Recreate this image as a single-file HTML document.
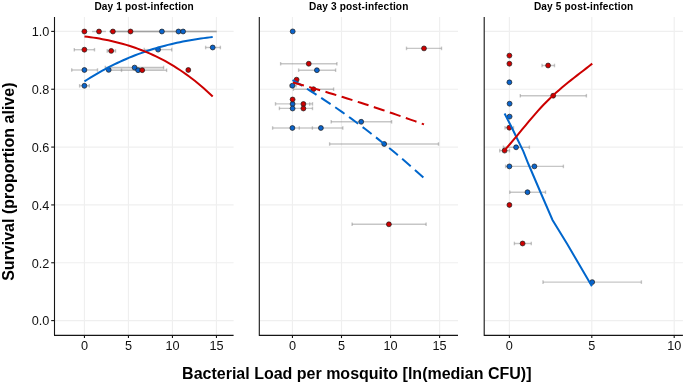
<!DOCTYPE html>
<html><head><meta charset="utf-8"><style>
html,body{margin:0;padding:0;background:#fff;width:685px;height:384px;overflow:hidden;font-family:"Liberation Sans",sans-serif;}
</style></head><body>
<svg width="685" height="384" viewBox="0 0 685 384" style="position:absolute;left:0;top:0">
<rect width="685" height="384" fill="#fff"/>
<g stroke="#EFEFEF" stroke-width="1.2" fill="none">
<line x1="54.5" y1="320.60" x2="233.6" y2="320.60"/>
<line x1="54.5" y1="262.76" x2="233.6" y2="262.76"/>
<line x1="54.5" y1="204.92" x2="233.6" y2="204.92"/>
<line x1="54.5" y1="147.08" x2="233.6" y2="147.08"/>
<line x1="54.5" y1="89.24" x2="233.6" y2="89.24"/>
<line x1="54.5" y1="31.40" x2="233.6" y2="31.40"/>
<line x1="84.45" y1="17.0" x2="84.45" y2="335.4"/>
<line x1="128.45" y1="17.0" x2="128.45" y2="335.4"/>
<line x1="172.45" y1="17.0" x2="172.45" y2="335.4"/>
<line x1="216.45" y1="17.0" x2="216.45" y2="335.4"/>
</g>
<g stroke="#EFEFEF" stroke-width="1.2" fill="none">
<line x1="259.3" y1="320.60" x2="458.0" y2="320.60"/>
<line x1="259.3" y1="262.76" x2="458.0" y2="262.76"/>
<line x1="259.3" y1="204.92" x2="458.0" y2="204.92"/>
<line x1="259.3" y1="147.08" x2="458.0" y2="147.08"/>
<line x1="259.3" y1="89.24" x2="458.0" y2="89.24"/>
<line x1="259.3" y1="31.40" x2="458.0" y2="31.40"/>
<line x1="292.45" y1="17.0" x2="292.45" y2="335.4"/>
<line x1="341.50" y1="17.0" x2="341.50" y2="335.4"/>
<line x1="390.55" y1="17.0" x2="390.55" y2="335.4"/>
<line x1="439.60" y1="17.0" x2="439.60" y2="335.4"/>
</g>
<g stroke="#EFEFEF" stroke-width="1.2" fill="none">
<line x1="484.2" y1="320.60" x2="682.9" y2="320.60"/>
<line x1="484.2" y1="262.76" x2="682.9" y2="262.76"/>
<line x1="484.2" y1="204.92" x2="682.9" y2="204.92"/>
<line x1="484.2" y1="147.08" x2="682.9" y2="147.08"/>
<line x1="484.2" y1="89.24" x2="682.9" y2="89.24"/>
<line x1="484.2" y1="31.40" x2="682.9" y2="31.40"/>
<line x1="509.40" y1="17.0" x2="509.40" y2="335.4"/>
<line x1="591.80" y1="17.0" x2="591.80" y2="335.4"/>
<line x1="674.20" y1="17.0" x2="674.20" y2="335.4"/>
</g>
<g stroke="rgba(120,120,120,0.42)" stroke-width="1.4" fill="none">
<rect x="108.7" y="67.5" width="54.9" height="2.8" fill="#ECECEC" stroke="none"/>
<line x1="92.1" y1="31.5" x2="105.9" y2="31.5"/>
<line x1="109.4" y1="31.5" x2="216.7" y2="31.5"/>
<line x1="109.4" y1="31.5" x2="216.7" y2="31.5"/>
<line x1="108.7" y1="70.3" x2="121.5" y2="70.3"/>
<line x1="299.3" y1="128.0" x2="312.4" y2="128.0"/>
<line x1="309.7" y1="102.2" x2="309.7" y2="105.8"/>
<line x1="74.3" y1="49.7" x2="94.5" y2="49.7"/>
<line x1="74.3" y1="47.9" x2="74.3" y2="51.5"/>
<line x1="94.5" y1="47.9" x2="94.5" y2="51.5"/>
<line x1="107.2" y1="50.9" x2="115.5" y2="50.9"/>
<line x1="107.2" y1="49.1" x2="107.2" y2="52.7"/>
<line x1="115.5" y1="49.1" x2="115.5" y2="52.7"/>
<line x1="144.2" y1="49.6" x2="171.7" y2="49.6"/>
<line x1="144.2" y1="47.8" x2="144.2" y2="51.4"/>
<line x1="171.7" y1="47.8" x2="171.7" y2="51.4"/>
<line x1="205.6" y1="47.5" x2="220.4" y2="47.5"/>
<line x1="205.6" y1="45.7" x2="205.6" y2="49.3"/>
<line x1="220.4" y1="45.7" x2="220.4" y2="49.3"/>
<line x1="71.7" y1="70.0" x2="97.5" y2="70.0"/>
<line x1="71.7" y1="68.2" x2="71.7" y2="71.8"/>
<line x1="97.5" y1="68.2" x2="97.5" y2="71.8"/>
<line x1="105.3" y1="67.5" x2="163.6" y2="67.5"/>
<line x1="105.3" y1="65.7" x2="105.3" y2="69.3"/>
<line x1="163.6" y1="65.7" x2="163.6" y2="69.3"/>
<line x1="121.5" y1="70.3" x2="166.6" y2="70.3"/>
<line x1="121.5" y1="68.5" x2="121.5" y2="72.1"/>
<line x1="166.6" y1="68.5" x2="166.6" y2="72.1"/>
<line x1="79.6" y1="85.8" x2="89.3" y2="85.8"/>
<line x1="79.6" y1="84.0" x2="79.6" y2="87.6"/>
<line x1="89.3" y1="84.0" x2="89.3" y2="87.6"/>
<line x1="406.5" y1="48.4" x2="441.5" y2="48.4"/>
<line x1="406.5" y1="46.6" x2="406.5" y2="50.2"/>
<line x1="441.5" y1="46.6" x2="441.5" y2="50.2"/>
<line x1="280.6" y1="63.8" x2="336.9" y2="63.8"/>
<line x1="280.6" y1="62.0" x2="280.6" y2="65.5"/>
<line x1="336.9" y1="62.0" x2="336.9" y2="65.5"/>
<line x1="298.6" y1="70.2" x2="335.6" y2="70.2"/>
<line x1="298.6" y1="68.4" x2="298.6" y2="72.0"/>
<line x1="335.6" y1="68.4" x2="335.6" y2="72.0"/>
<line x1="289.9" y1="85.7" x2="296.1" y2="85.7"/>
<line x1="289.9" y1="83.9" x2="289.9" y2="87.5"/>
<line x1="296.1" y1="83.9" x2="296.1" y2="87.5"/>
<line x1="293.4" y1="89.2" x2="333.6" y2="89.2"/>
<line x1="293.4" y1="87.4" x2="293.4" y2="91.0"/>
<line x1="333.6" y1="87.4" x2="333.6" y2="91.0"/>
<line x1="275.5" y1="103.9" x2="312.5" y2="103.9"/>
<line x1="275.5" y1="102.1" x2="275.5" y2="105.7"/>
<line x1="312.5" y1="102.1" x2="312.5" y2="105.7"/>
<line x1="279.4" y1="108.4" x2="312.5" y2="108.4"/>
<line x1="279.4" y1="106.6" x2="279.4" y2="110.2"/>
<line x1="312.5" y1="106.6" x2="312.5" y2="110.2"/>
<line x1="272.6" y1="128.0" x2="299.3" y2="128.0"/>
<line x1="272.6" y1="126.2" x2="272.6" y2="129.8"/>
<line x1="299.3" y1="126.2" x2="299.3" y2="129.8"/>
<line x1="312.4" y1="128.0" x2="342.8" y2="128.0"/>
<line x1="312.4" y1="126.2" x2="312.4" y2="129.8"/>
<line x1="342.8" y1="126.2" x2="342.8" y2="129.8"/>
<line x1="331.2" y1="121.8" x2="391.6" y2="121.8"/>
<line x1="331.2" y1="120.0" x2="331.2" y2="123.6"/>
<line x1="391.6" y1="120.0" x2="391.6" y2="123.6"/>
<line x1="329.6" y1="144.0" x2="438.5" y2="144.0"/>
<line x1="329.6" y1="142.2" x2="329.6" y2="145.8"/>
<line x1="438.5" y1="142.2" x2="438.5" y2="145.8"/>
<line x1="352.1" y1="224.3" x2="426.1" y2="224.3"/>
<line x1="352.1" y1="222.5" x2="352.1" y2="226.1"/>
<line x1="426.1" y1="222.5" x2="426.1" y2="226.1"/>
<line x1="542.0" y1="65.5" x2="554.5" y2="65.5"/>
<line x1="542.0" y1="63.7" x2="542.0" y2="67.3"/>
<line x1="554.5" y1="63.7" x2="554.5" y2="67.3"/>
<line x1="520.3" y1="95.7" x2="586.4" y2="95.7"/>
<line x1="520.3" y1="93.9" x2="520.3" y2="97.5"/>
<line x1="586.4" y1="93.9" x2="586.4" y2="97.5"/>
<line x1="505.0" y1="127.7" x2="513.5" y2="127.7"/>
<line x1="505.0" y1="125.9" x2="505.0" y2="129.5"/>
<line x1="513.5" y1="125.9" x2="513.5" y2="129.5"/>
<line x1="499.7" y1="150.6" x2="509.5" y2="150.6"/>
<line x1="499.7" y1="148.8" x2="499.7" y2="152.4"/>
<line x1="509.5" y1="148.8" x2="509.5" y2="152.4"/>
<line x1="503.4" y1="147.3" x2="529.4" y2="147.3"/>
<line x1="503.4" y1="145.5" x2="503.4" y2="149.1"/>
<line x1="529.4" y1="145.5" x2="529.4" y2="149.1"/>
<line x1="505.6" y1="166.4" x2="563.4" y2="166.4"/>
<line x1="505.6" y1="164.6" x2="505.6" y2="168.2"/>
<line x1="563.4" y1="164.6" x2="563.4" y2="168.2"/>
<line x1="509.8" y1="192.2" x2="545.5" y2="192.2"/>
<line x1="509.8" y1="190.4" x2="509.8" y2="194.0"/>
<line x1="545.5" y1="190.4" x2="545.5" y2="194.0"/>
<line x1="514.4" y1="243.5" x2="531.3" y2="243.5"/>
<line x1="514.4" y1="241.7" x2="514.4" y2="245.3"/>
<line x1="531.3" y1="241.7" x2="531.3" y2="245.3"/>
<line x1="543.0" y1="282.1" x2="641.4" y2="282.1"/>
<line x1="543.0" y1="280.3" x2="543.0" y2="283.9"/>
<line x1="641.4" y1="280.3" x2="641.4" y2="283.9"/>
</g>
<g stroke="#1a1a1a" stroke-width="0.7">
<circle cx="161.9" cy="31.5" r="2.45" fill="#0A64CC"/>
<circle cx="178.5" cy="31.5" r="2.45" fill="#0A64CC"/>
<circle cx="183.1" cy="31.5" r="2.45" fill="#0A64CC"/>
<circle cx="158.1" cy="49.6" r="2.45" fill="#0A64CC"/>
<circle cx="212.7" cy="47.5" r="2.45" fill="#0A64CC"/>
<circle cx="84.4" cy="70.0" r="2.45" fill="#0A64CC"/>
<circle cx="108.7" cy="69.9" r="2.45" fill="#0A64CC"/>
<circle cx="134.6" cy="67.6" r="2.45" fill="#0A64CC"/>
<circle cx="138.1" cy="70.2" r="2.45" fill="#0A64CC"/>
<circle cx="84.4" cy="85.8" r="2.45" fill="#0A64CC"/>
<circle cx="292.7" cy="31.4" r="2.45" fill="#0A64CC"/>
<circle cx="316.9" cy="70.2" r="2.45" fill="#0A64CC"/>
<circle cx="292.4" cy="85.7" r="2.45" fill="#0A64CC"/>
<circle cx="292.6" cy="104.0" r="2.45" fill="#0A64CC"/>
<circle cx="292.6" cy="108.5" r="2.45" fill="#0A64CC"/>
<circle cx="292.4" cy="128.0" r="2.45" fill="#0A64CC"/>
<circle cx="320.9" cy="128.0" r="2.45" fill="#0A64CC"/>
<circle cx="361.2" cy="121.8" r="2.45" fill="#0A64CC"/>
<circle cx="384.2" cy="144.0" r="2.45" fill="#0A64CC"/>
<circle cx="509.4" cy="82.3" r="2.45" fill="#0A64CC"/>
<circle cx="509.6" cy="103.7" r="2.45" fill="#0A64CC"/>
<circle cx="509.6" cy="116.6" r="2.45" fill="#0A64CC"/>
<circle cx="516.1" cy="147.3" r="2.45" fill="#0A64CC"/>
<circle cx="509.4" cy="166.4" r="2.45" fill="#0A64CC"/>
<circle cx="534.4" cy="166.4" r="2.45" fill="#0A64CC"/>
<circle cx="527.5" cy="192.2" r="2.45" fill="#0A64CC"/>
<circle cx="592.2" cy="282.1" r="2.45" fill="#0A64CC"/>
<circle cx="84.4" cy="31.5" r="2.45" fill="#CE0000"/>
<circle cx="99.0" cy="31.5" r="2.45" fill="#CE0000"/>
<circle cx="112.9" cy="31.5" r="2.45" fill="#CE0000"/>
<circle cx="130.5" cy="31.5" r="2.45" fill="#CE0000"/>
<circle cx="84.4" cy="49.7" r="2.45" fill="#CE0000"/>
<circle cx="111.2" cy="50.9" r="2.45" fill="#CE0000"/>
<circle cx="142.2" cy="70.2" r="2.45" fill="#CE0000"/>
<circle cx="188.3" cy="70.0" r="2.45" fill="#CE0000"/>
<circle cx="424.0" cy="48.4" r="2.45" fill="#CE0000"/>
<circle cx="308.75" cy="63.75" r="2.45" fill="#CE0000"/>
<circle cx="296.6" cy="79.7" r="2.45" fill="#CE0000"/>
<circle cx="313.4" cy="89.2" r="2.45" fill="#CE0000"/>
<circle cx="292.6" cy="99.5" r="2.45" fill="#CE0000"/>
<circle cx="303.4" cy="104.0" r="2.45" fill="#CE0000"/>
<circle cx="303.4" cy="108.5" r="2.45" fill="#CE0000"/>
<circle cx="388.9" cy="224.3" r="2.45" fill="#CE0000"/>
<circle cx="509.4" cy="55.6" r="2.45" fill="#CE0000"/>
<circle cx="509.4" cy="63.75" r="2.45" fill="#CE0000"/>
<circle cx="548.1" cy="65.5" r="2.45" fill="#CE0000"/>
<circle cx="553.2" cy="95.7" r="2.45" fill="#CE0000"/>
<circle cx="509.3" cy="127.7" r="2.45" fill="#CE0000"/>
<circle cx="504.6" cy="150.6" r="2.45" fill="#CE0000"/>
<circle cx="509.4" cy="205.0" r="2.45" fill="#CE0000"/>
<circle cx="522.6" cy="243.5" r="2.45" fill="#CE0000"/>
</g>
<path d="M84.45 81.45 L87.43 79.52 L90.42 77.65 L93.40 75.83 L96.38 74.05 L99.36 72.33 L102.35 70.66 L105.33 69.03 L108.31 67.46 L111.29 65.93 L114.28 64.44 L117.26 63.01 L120.24 61.61 L123.22 60.27 L126.21 58.96 L129.19 57.70 L132.17 56.48 L135.15 55.30 L138.14 54.16 L141.12 53.07 L144.10 52.01 L147.08 50.99 L150.07 50.01 L153.05 49.07 L156.03 48.16 L159.01 47.29 L162.00 46.46 L164.98 45.66 L167.96 44.89 L170.94 44.16 L173.93 43.46 L176.91 42.79 L179.89 42.16 L182.87 41.55 L185.86 40.98 L188.84 40.43 L191.82 39.91 L194.80 39.42 L197.79 38.96 L200.77 38.53 L203.75 38.12 L206.73 37.73 L209.72 37.37 L212.70 37.04" stroke="#0066CC" stroke-width="2" fill="none"/>
<path d="M84.45 36.39 L87.43 36.78 L90.42 37.19 L93.40 37.63 L96.38 38.11 L99.36 38.61 L102.35 39.15 L105.33 39.73 L108.31 40.34 L111.29 41.00 L114.28 41.69 L117.26 42.42 L120.24 43.20 L123.22 44.02 L126.21 44.88 L129.19 45.80 L132.17 46.76 L135.15 47.77 L138.14 48.84 L141.12 49.96 L144.10 51.13 L147.08 52.36 L150.07 53.64 L153.05 54.99 L156.03 56.39 L159.01 57.86 L162.00 59.39 L164.98 60.99 L167.96 62.65 L170.94 64.38 L173.93 66.17 L176.91 68.04 L179.89 69.98 L182.87 72.00 L185.86 74.09 L188.84 76.25 L191.82 78.50 L194.80 80.82 L197.79 83.23 L200.77 85.71 L203.75 88.28 L206.73 90.94 L209.72 93.68 L212.70 96.51" stroke="#CC0000" stroke-width="2" fill="none"/>
<path d="M292.50 80.03 L297.02 82.71 L301.55 85.43 L306.07 88.21 L310.60 91.03 L315.12 93.91 L319.64 96.83 L324.17 99.81 L328.69 102.83 L333.22 105.90 L337.74 109.02 L342.27 112.19 L346.79 115.41 L351.31 118.68 L355.84 122.00 L360.36 125.37 L364.89 128.79 L369.41 132.26 L373.93 135.77 L378.46 139.34 L382.98 142.96 L387.51 146.62 L392.03 150.34 L396.56 154.10 L401.08 157.91 L405.60 161.78 L410.13 165.69 L414.65 169.65 L419.18 173.66 L423.70 177.72" stroke="#0066CC" stroke-width="2" fill="none" stroke-dasharray="11.3 5.6"/>
<path d="M293.00 82.45 L297.52 83.71 L302.03 84.99 L306.55 86.28 L311.07 87.59 L315.59 88.90 L320.10 90.23 L324.62 91.57 L329.14 92.93 L333.66 94.30 L338.17 95.68 L342.69 97.08 L347.21 98.49 L351.72 99.91 L356.24 101.34 L360.76 102.79 L365.28 104.25 L369.79 105.72 L374.31 107.21 L378.83 108.71 L383.34 110.22 L387.86 111.75 L392.38 113.29 L396.90 114.84 L401.41 116.41 L405.93 117.99 L410.45 119.58 L414.97 121.18 L419.48 122.80 L424.00 124.43" stroke="#CC0000" stroke-width="2" fill="none" stroke-dasharray="11.3 5.6"/>
<path d="M504.6 113.5 L512 128 L517.8 140 L523.25 151.1 L528.4 164 L541.25 194 L552.5 220 L567.2 244 L591.9 286.3" stroke="#0066CC" stroke-width="2" fill="none"/>
<path d="M504.40 150.35 L507.43 146.96 L510.46 143.47 L513.49 139.91 L516.52 136.29 L519.55 132.64 L522.58 128.98 L525.61 125.32 L528.63 121.68 L531.66 118.09 L534.69 114.57 L537.72 111.12 L540.75 107.78 L543.78 104.56 L546.81 101.47 L549.84 98.49 L552.87 95.62 L555.90 92.85 L558.93 90.17 L561.96 87.57 L564.99 85.04 L568.02 82.57 L571.04 80.14 L574.07 77.76 L577.10 75.40 L580.13 73.06 L583.16 70.72 L586.19 68.38 L589.22 66.02 L592.25 63.64" stroke="#CC0000" stroke-width="2" fill="none"/>
<g stroke="#151515" stroke-width="1.1" fill="none" stroke-linejoin="round">
<path d="M54.5 17.0V335.4H233.6"/>
<line x1="84.45" y1="335.4" x2="84.45" y2="338.09999999999997"/>
<line x1="128.45" y1="335.4" x2="128.45" y2="338.09999999999997"/>
<line x1="172.45" y1="335.4" x2="172.45" y2="338.09999999999997"/>
<line x1="216.45" y1="335.4" x2="216.45" y2="338.09999999999997"/>
<path d="M259.3 17.0V335.4H458.0"/>
<line x1="292.45" y1="335.4" x2="292.45" y2="338.09999999999997"/>
<line x1="341.50" y1="335.4" x2="341.50" y2="338.09999999999997"/>
<line x1="390.55" y1="335.4" x2="390.55" y2="338.09999999999997"/>
<line x1="439.60" y1="335.4" x2="439.60" y2="338.09999999999997"/>
<path d="M484.2 17.0V335.4H682.9"/>
<line x1="509.40" y1="335.4" x2="509.40" y2="338.09999999999997"/>
<line x1="591.80" y1="335.4" x2="591.80" y2="338.09999999999997"/>
<line x1="674.20" y1="335.4" x2="674.20" y2="338.09999999999997"/>
<line x1="51.2" y1="320.60" x2="54.5" y2="320.60"/>
<line x1="51.2" y1="262.76" x2="54.5" y2="262.76"/>
<line x1="51.2" y1="204.92" x2="54.5" y2="204.92"/>
<line x1="51.2" y1="147.08" x2="54.5" y2="147.08"/>
<line x1="51.2" y1="89.24" x2="54.5" y2="89.24"/>
<line x1="51.2" y1="31.40" x2="54.5" y2="31.40"/>
</g>
<g style="font-family:'Liberation Sans',sans-serif;will-change:transform">
<g font-size="12.7" fill="#111" text-anchor="end">
<text x="49.3" y="325.35">0.0</text>
<text x="49.3" y="267.51">0.2</text>
<text x="49.3" y="209.67">0.4</text>
<text x="49.3" y="151.83">0.6</text>
<text x="49.3" y="93.99">0.8</text>
<text x="49.3" y="36.15">1.0</text>
</g>
<g font-size="12.7" fill="#111" text-anchor="middle">
<text x="84.45" y="349.8">0</text>
<text x="128.45" y="349.8">5</text>
<text x="172.45" y="349.8">10</text>
<text x="216.45" y="349.8">15</text>
<text x="292.45" y="349.8">0</text>
<text x="341.50" y="349.8">5</text>
<text x="390.55" y="349.8">10</text>
<text x="439.60" y="349.8">15</text>
<text x="509.40" y="349.8">0</text>
<text x="591.80" y="349.8">5</text>
<text x="674.20" y="349.8">10</text>
</g>
<g font-size="10.1" font-weight="bold" fill="#000" text-anchor="middle" letter-spacing="0.15">
<text x="144.15" y="9.6">Day 1 post-infection</text>
<text x="358.75" y="9.6">Day 3 post-infection</text>
<text x="583.65" y="9.6">Day 5 post-infection</text>
</g>
<text x="182.1" y="378.6" font-size="16" font-weight="bold" fill="#000">Bacterial Load per mosquito [ln(median CFU)]</text>
<text transform="translate(14.1 280.8) rotate(-90)" x="0" y="0" font-size="16" font-weight="bold" fill="#000">Survival (proportion alive)</text>
</g>
</svg>
</body></html>
